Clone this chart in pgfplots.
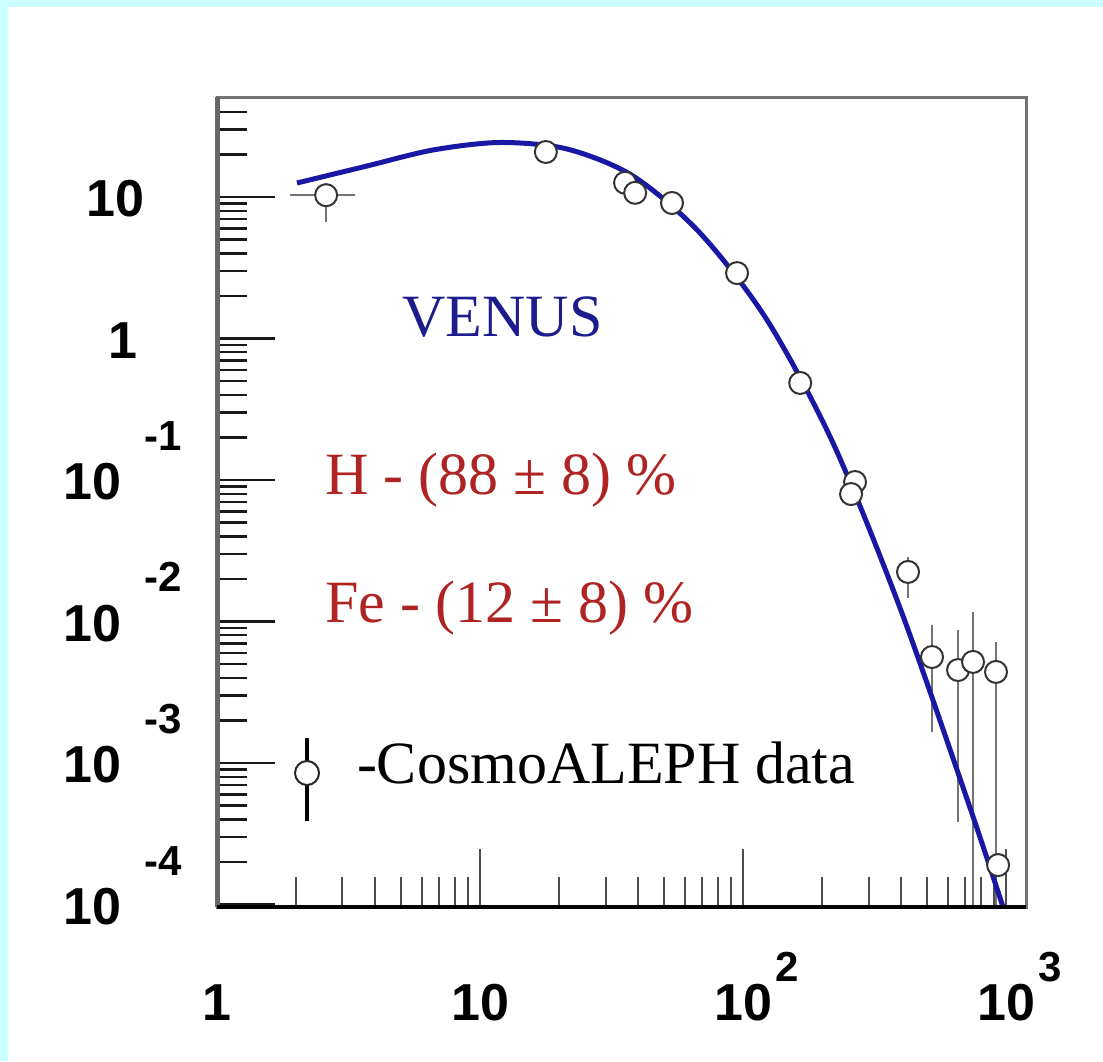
\documentclass[border=0pt]{standalone}
\usepackage{fontspec}
\setmainfont{Liberation Serif}
\setsansfont{Liberation Sans}
\usepackage{pgfplots}
\pgfplotsset{compat=1.18}
\usepackage{pgfplotstable}

\definecolor{bgcyan}{RGB}{204,255,255}
\definecolor{venusblue}{RGB}{24,24,165}
\definecolor{labelblue}{RGB}{28,28,140}
\definecolor{fracred}{RGB}{175,35,35}

% exponents of the tick labels
\newcommand{\xexp}[1]{\rlap{\kern2pt\raisebox{19.5pt}{\fontsize{21}{21}\selectfont #1}}}
\newcommand{\yexp}[1]{\kern11.5pt\raisebox{24.5pt}{\fontsize{21}{21}\selectfont #1}}

% CosmoALEPH points: x, y and the error amounts
\pgfplotstableread{
x     y        xlo   xhi   ylo       yhi
2.60  10.3     0.70  0.75  3.64      0
17.8  20.8     0     0     0         0
35.6  12.6     0     0     0         0
38.9  10.7     0     0     0         0
53.7  9.07     0     0     0         0
94.9  2.90     0     0     0         0
165   0.485    0     0     0         0
266.6 0.0968   0     0     0         0
257.5 0.0796   0     0     0         0
424   0.0224   0     0     0.00774   0.0062
523   0.00561  0     0     0.003954  0.00383
657   0.00454  0     0     0.004157  0.00417
749   0.00518  0     0     0.00517   0.00649
916   0.0044   0     0     0.00439   0.00276
933   0.00019  0     0     0         0
}\alephdata

\begin{document}
\begin{tikzpicture}
\fill[white] (0,0) rectangle (551.5pt,530.5pt);
\fill[bgcyan] (0,527pt) rectangle (551.5pt,530.5pt);
\fill[bgcyan] (0,0) rectangle (4pt,530.5pt);

\begin{axis}[
    at={(108.5pt,77pt)}, anchor=south west,
    scale only axis, width=404.5pt, height=405pt,
    xmode=log, ymode=log,
    xmin=1, xmax=1191, ymin=9.6e-5, ymax=50.9,
    xtick={1,10,100,1000},
    xticklabels={1,10,10\xexp{2},10\xexp{3}},
    minor xtick={2,3,4,5,6,7,8,9,20,30,40,50,60,70,80,90,200,300,400,500,600,700,800,900},
    ytick={1e-4,1e-3,1e-2,1e-1,1,10},
    yticklabels={10\yexp{-4},10\yexp{-3},10\yexp{-2},10\yexp{-1},1\kern22pt,10\kern18.5pt},
    minor ytick={2e-4,3e-4,4e-4,5e-4,6e-4,7e-4,8e-4,9e-4,
                 2e-3,3e-3,4e-3,5e-3,6e-3,7e-3,8e-3,9e-3,
                 0.02,0.03,0.04,0.05,0.06,0.07,0.08,0.09,
                 0.2,0.3,0.4,0.5,0.6,0.7,0.8,0.9,
                 2,3,4,5,6,7,8,9,20,30,40,50},
    tick align=inside,
    xtick pos=left, ytick pos=left,
    major tick length=29pt, minor tick length=15pt,
    x tick style={black!70, line width=1pt},
    y tick style={black!90, line width=1.2pt},
    axis line style={draw=black!55, line width=1.5pt},
    tick label style={font=\sffamily\bfseries\fontsize{26}{26}\selectfont, inner sep=0pt},
    xticklabel style={anchor=base, yshift=-56.5pt},
    yticklabel style={anchor=base east, xshift=-17.5pt, yshift=-9.75pt},
    legend style={at={(0.0952,0.1037)}, anchor=south west, draw=none, fill=none,
        inner sep=0pt, outer sep=0pt, column sep=18.5pt,
        font=\fontsize{30}{30}\selectfont,
        nodes={inner sep=0pt, outer sep=0pt}, cells={anchor=base west}},
    after end axis/.code={
        \draw[black!60, line width=2.5pt] (rel axis cs:0,0) -- (rel axis cs:0,1);
        \draw[black, line width=1.6pt] (rel axis cs:0,0) -- (rel axis cs:1,0);
    },
]
\addplot[only marks, mark=*, mark size=5.5pt,
    mark options={draw=black!80, line width=1pt, fill=white},
    legend image code/.code={
        \draw[black, line width=2pt] (0pt,-19pt) -- (0pt,22.5pt);
        \draw[black!85, line width=1pt, fill=white] (0pt,5pt) circle (6pt);
    },
    error bars/.cd, x dir=both, x explicit, y dir=both, y explicit,
    error bar style={black!55, line width=1pt}, error mark=none]
    table[x=x, y=y, x error minus=xlo, x error plus=xhi,
          y error minus=ylo, y error plus=yhi] {\alephdata};
\addlegendentry{-CosmoALEPH data}

% VENUS curve
\addplot[venusblue, line width=2.5pt, smooth, forget plot] coordinates {
    (2.015,12.56) (3.718,16.56) (6.627,21.49) (11.91,24.28) (21.42,21.84)
    (38.17,14.07) (68.63,5.567) (123.4,1.351) (219.9,0.1826)
    (395.4,0.01246) (710.8,5.567e-4) (974.1,9.6e-5)
};
\end{axis}

\node[anchor=base west, inner sep=0pt, text=labelblue, font=\fontsize{30}{30}\selectfont] at (201pt,362pt) {VENUS};
\node[anchor=base west, inner sep=0pt, text=fracred, font=\fontsize{30}{30}\selectfont] at (162.5pt,283pt) {H - (88 ± 8) \%};
\node[anchor=base west, inner sep=0pt, text=fracred, font=\fontsize{30}{30}\selectfont] at (162.5pt,219pt) {Fe - (12 ± 8) \%};
\end{tikzpicture}
\end{document}
